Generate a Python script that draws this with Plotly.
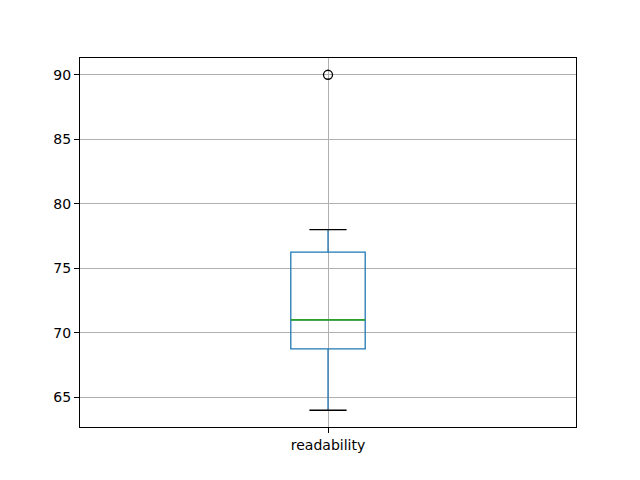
import plotly.graph_objects as go

categories = ["readability"]
q1 = [68.75]
median = [71.0]
q3 = [76.25]
lower_whisker = [64.0]
upper_whisker = [78.0]
outliers = [[90.0]]

xpos = [i + 1 for i in range(len(categories))]
box_w = 0.15
cap_w = box_w / 2

fig = go.Figure()
for i, x in enumerate(xpos):
    fig.add_trace(go.Box(
        x=[x], q1=[q1[i]], median=[median[i]], q3=[q3[i]],
        lowerfence=[lower_whisker[i]], upperfence=[upper_whisker[i]],
        width=box_w, whiskerwidth=0.0001,
        line=dict(color="#1f77b4", width=1.3),
        fillcolor="rgba(0,0,0,0)", boxpoints=False, showlegend=False,
        hoverinfo="skip",
    ))
    # median line
    fig.add_trace(go.Scatter(
        x=[x - box_w / 2, x + box_w / 2], y=[median[i], median[i]],
        mode="lines", line=dict(color="#2ca02c", width=1.8), showlegend=False))
    # caps
    for v in (lower_whisker[i], upper_whisker[i]):
        fig.add_trace(go.Scatter(
            x=[x - cap_w / 2, x + cap_w / 2], y=[v, v],
            mode="lines", line=dict(color="black", width=1.3), showlegend=False))
    # outliers
    fig.add_trace(go.Scatter(
        x=[x] * len(outliers[i]), y=outliers[i], mode="markers",
        marker=dict(symbol="circle-open", size=9, color="black",
                    line=dict(width=1.3, color="black")),
        showlegend=False))

allv = lower_whisker + upper_whisker + [v for o in outliers for v in o]
lo, hi = min(allv), max(allv)
pad = (hi - lo) * 0.05

fig.update_layout(
    width=640, height=480,
    margin=dict(l=72, r=72, t=50, b=61),
    paper_bgcolor="white", plot_bgcolor="white",
    font=dict(family="DejaVu Sans", size=14, color="black"),
    xaxis=dict(
        range=[0.5, len(categories) + 0.5],
        tickvals=xpos, ticktext=categories,
        showgrid=True, gridcolor="#b0b0b0", gridwidth=1,
        showline=True, linecolor="black", linewidth=1, mirror=True,
        ticks="outside", ticklen=5, tickcolor="black", zeroline=False,
    ),
    yaxis=dict(
        range=[lo - pad, hi + pad],
        tickvals=[65, 70, 75, 80, 85, 90],
        showgrid=True, gridcolor="#b0b0b0", gridwidth=1,
        showline=True, linecolor="black", linewidth=1, mirror=True,
        ticks="outside", ticklen=5, tickcolor="black", zeroline=False,
    ),
)

fig.write_html("out.html")
